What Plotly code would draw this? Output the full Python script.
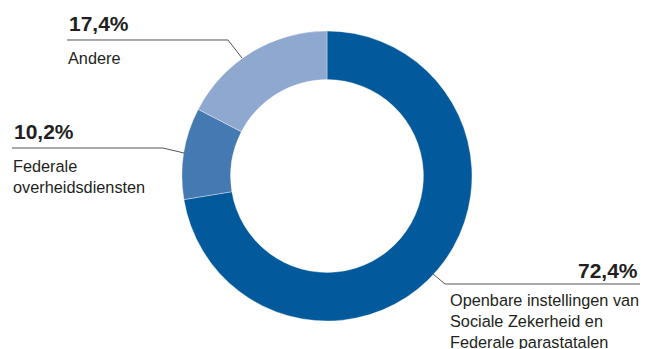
import plotly.graph_objects as go

labels = ["Openbare instellingen van Sociale Zekerheid en Federale parastatalen",
          "Federale overheidsdiensten", "Andere"]
values = [72.4, 10.2, 17.4]
pct_text = ["72,4%", "10,2%", "17,4%"]
label_lines = [["Openbare instellingen van", "Sociale Zekerheid en", "Federale parastatalen"],
               ["Federale", "overheidsdiensten"],
               ["Andere"]]
colors = ["#02599C", "#4479B2", "#8EA8CF"]

W, H = 651, 349
FONT = "Liberation Sans, Arial, Helvetica, sans-serif"
TXT = "#231F20"
LINE = "#555555"

def px(x):
    return x / W

def py(y):
    return (H - y) / H

cx, cy, r = 327, 176, 145

fig = go.Figure(go.Pie(
    labels=labels, values=values, sort=False, direction="clockwise", rotation=0,
    hole=0.665, marker=dict(colors=colors, line=dict(color="rgba(255,255,255,0.6)", width=0.6)),
    textinfo="none", hoverinfo="label+percent", showlegend=False,
    domain=dict(x=[px(cx - r), px(cx + r)], y=[py(cy + r), py(cy - r)]),
))

annotations = []
shapes = []

place = [
    dict(px_=640, py_=270, anchor="right", tx=448, ty=300,
         path=[(433, 274), (445, 284), (640, 284)]),
    dict(px_=12, py_=131, anchor="left", tx=11, ty=166,
         path=[(184, 153), (163, 148), (12, 148)]),
    dict(px_=67, py_=24, anchor="left", tx=66, ty=58,
         path=[(242, 58), (228, 40), (67, 40)]),
]

for i, p in enumerate(place):
    annotations.append(dict(
        x=px(p["px_"]), y=py(p["py_"]), xref="paper", yref="paper",
        text="<b>" + pct_text[i] + "</b>", showarrow=False,
        xanchor=p["anchor"], yanchor="middle",
        font=dict(family=FONT, size=21, color=TXT)))
    for j, line in enumerate(label_lines[i]):
        annotations.append(dict(
            x=px(p["tx"]), y=py(p["ty"] + 21 * j), xref="paper", yref="paper",
            text=line, showarrow=False, xanchor="left", yanchor="middle",
            font=dict(family=FONT, size=16.3, color=TXT)))
    pts = p["path"]
    d = "M " + " L ".join(f"{px(x):.5f},{py(y):.5f}" for x, y in pts)
    shapes.append(dict(type="path", path=d, xref="paper", yref="paper",
                       line=dict(color=LINE, width=1)))

fig.update_layout(
    width=W, height=H, margin=dict(l=0, r=0, t=0, b=0),
    paper_bgcolor="white", plot_bgcolor="white",
    annotations=annotations, shapes=shapes,
)

fig.write_html("out.html")
